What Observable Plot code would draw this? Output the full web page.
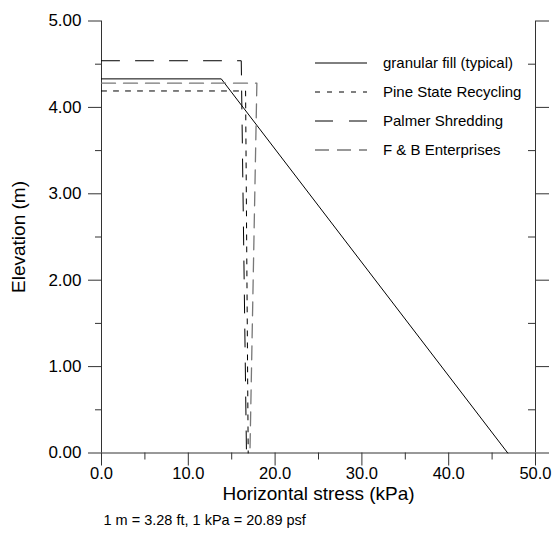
<!DOCTYPE html>
<html><head><meta charset="utf-8">
<script src="https://cdn.jsdelivr.net/npm/d3@7"></script>
<script src="https://cdn.jsdelivr.net/npm/@observablehq/plot@0.6"></script>
<style>
body{margin:0;background:#fff}
#chart{width:555px;height:542px}
</style>
</head><body><div id="chart"></div>
<script>
// ---- data ----
const xMajorTicks = [0, 10, 20, 30, 40, 50];
const xMinorTicks = [5, 15, 25, 35, 45];
const xTickLabels = ["0.0", "10.0", "20.0", "30.0", "40.0", "50.0"];
const yMajorTicks = [0, 1, 2, 3, 4, 5];
const yMinorTicks = [0.5, 1.5, 2.5, 3.5, 4.5];
const yTickLabels = ["0.00", "1.00", "2.00", "3.00", "4.00", "5.00"];

const seriesNames = ["granular fill (typical)", "Pine State Recycling", "Palmer Shredding", "F & B Enterprises"];
const granularStress = [0, 13.8, 46.8];
const granularElev   = [4.33, 4.33, 0];
const pineStress     = [0, 16.6, 16.9];
const pineElev       = [4.19, 4.19, 0];
const palmerStress   = [0, 16.1, 16.7];
const palmerElev     = [4.54, 4.54, 0];
const fbStress       = [0, 17.9, 17.1];
const fbElev         = [4.28, 4.28, 0];

const xTitle = "Horizontal stress (kPa)";
const yTitle = "Elevation (m)";
const footnote = "1 m = 3.28 ft, 1 kPa = 20.89 psf";

// ---- styles ----
const styles = [
  {stroke: "#000", dash: null, width: 1},
  {stroke: "#000", dash: "5,7", width: 1},
  {stroke: "#000", dash: "18,16", width: 1},
  {stroke: "#777", dash: "14,8", width: 1.3}
];
const series = [
  [granularStress, granularElev],
  [pineStress, pineElev],
  [palmerStress, palmerElev],
  [fbStress, fbElev]
].map(([xs, ys], i) => xs.map((x, j) => ({name: seriesNames[i], stress: x, elev: ys[j]})));

const font = "'Liberation Sans', Arial, sans-serif";
const axisColor = "#333";
const blank = () => "";

const W = 555, H = 542;
const mL = 101, mR = 20, mT = 20.5, mB = 89.5;

const lineMarks = series.map((rows, i) => Plot.line(rows, {
  x: "stress", y: "elev",
  stroke: styles[i].stroke,
  strokeWidth: styles[i].width,
  strokeDasharray: styles[i].dash
}));

const chart = Plot.plot({
  width: W, height: H,
  marginLeft: mL, marginRight: mR, marginTop: mT, marginBottom: mB,
  style: {fontFamily: font, background: "#fff", overflow: "visible"},
  x: {domain: [0, 50]},
  y: {domain: [0, 5]},
  marks: [
    // axis lines
    Plot.ruleX([0, 50], {x: d => d, y1: 0, y2: 5, stroke: axisColor}),
    Plot.ruleY([0], {y: d => d, x1: 0, x2: 50, stroke: axisColor}),
    // bottom axis
    Plot.axisX({anchor: "bottom", ticks: xMajorTicks, tickSize: 13, tickPadding: 1,
      tickFormat: d => xTickLabels[xMajorTicks.indexOf(d)], fontSize: 16.5, color: "#000", stroke: axisColor, label: null}),
    Plot.axisX({anchor: "bottom", ticks: xMinorTicks, tickSize: 7, tickFormat: blank, stroke: axisColor, label: null}),
    // left axis
    Plot.axisY({anchor: "left", ticks: yMajorTicks, tickSize: 13, tickPadding: 7,
      tickFormat: d => yTickLabels[yMajorTicks.indexOf(d)], fontSize: 17, color: "#000", stroke: axisColor, label: null}),
    Plot.axisY({anchor: "left", ticks: yMinorTicks, tickSize: 6, tickFormat: blank, stroke: axisColor, label: null}),
    // right axis: major outward, minor inward
    Plot.axisY({anchor: "right", ticks: yMajorTicks, tickSize: 13, tickFormat: blank, stroke: axisColor, label: null}),
    Plot.tickY(yMinorTicks, {y: d => d, insetLeft: W - mL - mR - 7, stroke: axisColor}),
    // data
    ...lineMarks,
    // titles
    Plot.text([xTitle], {frameAnchor: "bottom", dy: 47, fontSize: 19, fill: "#000"}),
    Plot.text([yTitle], {frameAnchor: "left", textAnchor: "middle", dx: -83, rotate: -90, fontSize: 19, fill: "#000"}),
    Plot.text([footnote], {frameAnchor: "bottom-left", textAnchor: "start", dx: 2, dy: 72, fontSize: 14.5, fill: "#000"})
  ]
});

// legend (inside plot, upper right)
const svg = d3.select(chart);
const lg = svg.append("g").attr("font-family", font).attr("font-size", 15).attr("text-anchor", "start");
const lgX0 = 315, lgX1 = 367, lgTx = 383, lgY0 = 63, lgDy = 29;
seriesNames.forEach((name, i) => {
  const y = lgY0 + i * lgDy;
  lg.append("line").attr("x1", lgX0).attr("x2", lgX1).attr("y1", y).attr("y2", y)
    .attr("stroke", styles[i].stroke).attr("stroke-width", styles[i].width)
    .attr("stroke-dasharray", styles[i].dash);
  lg.append("text").attr("x", lgTx).attr("y", y).attr("dy", "0.35em").attr("fill", "#000").text(name);
});

document.getElementById("chart").append(chart);
</script>
</body></html>
